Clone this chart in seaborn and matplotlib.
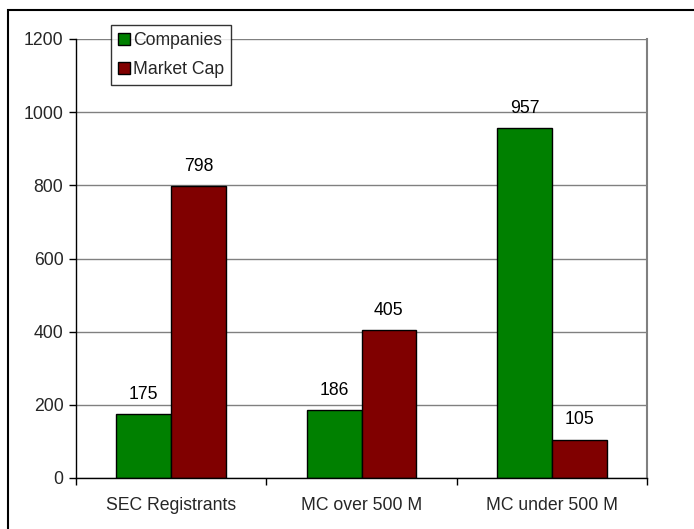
import matplotlib
matplotlib.use("Agg")
import matplotlib.pyplot as plt
import seaborn as sns
import pandas as pd
from matplotlib.patches import Rectangle, Patch

categories = ["SEC Registrants", "MC over 500 M", "MC under 500 M"]
companies = [175, 186, 957]
market_cap = [798, 405, 105]
series_names = ["Companies", "Market Cap"]
colors = ["#008000", "#800000"]
yticks = [0, 200, 400, 600, 800, 1000, 1200]

df = pd.DataFrame({
    "category": categories * 2,
    "value": companies + market_cap,
    "series": [series_names[0]] * 3 + [series_names[1]] * 3,
})

sns.set_theme(style="white")
plt.rcParams["font.family"] = ["Liberation Sans", "DejaVu Sans"]
FS = 12.7

fig = plt.figure(figsize=(6.94, 5.29), dpi=100)
ax = fig.add_axes([76 / 694, 1 - 478 / 529, 571 / 694, 439 / 529])

sns.barplot(data=df, x="category", y="value", hue="series", order=categories,
            hue_order=series_names, palette=colors, width=0.575,
            edgecolor="black", linewidth=1, saturation=1, ax=ax, legend=False)

for cont in ax.containers:
    ax.bar_label(cont, padding=8, fontsize=FS, color="black")

ax.set_ylim(0, 1200)
ax.set_xlim(-0.5, 2.5)
ax.set_yticks(yticks)
ax.set_yticklabels([str(v) for v in yticks], fontsize=FS)
ax.yaxis.grid(True, color="#808080", linewidth=1)
ax.set_axisbelow(True)

ax.set_xticks([-0.5, 0.5, 1.5, 2.5])
ax.set_xticklabels([])
ax.set_xticks([0, 1, 2], minor=True)
ax.set_xticklabels(categories, minor=True, fontsize=FS)
ax.tick_params(axis="x", which="major", length=5, width=1, color="black", direction="out", bottom=True)
ax.tick_params(axis="x", which="minor", length=0, pad=14)
ax.tick_params(axis="y", length=5, width=1, color="black", direction="out", left=True, pad=4)
ax.set_xlabel("")
ax.set_ylabel("")

for s in ["left", "bottom"]:
    ax.spines[s].set_color("black")
    ax.spines[s].set_linewidth(1)
ax.spines["top"].set_visible(False)
ax.spines["right"].set_color("#808080")
ax.spines["right"].set_linewidth(1.5)

handles = [Patch(facecolor=c, edgecolor="black", linewidth=1) for c in colors]
leg = fig.legend(handles, series_names, loc="upper left",
                 bbox_to_anchor=(111 / 694, 1 - 25 / 529), fontsize=FS,
                 frameon=True, fancybox=False, edgecolor="black",
                 handlelength=0.65, handleheight=0.65, handletextpad=0.2,
                 labelspacing=0.7, borderpad=0.4, borderaxespad=0)
leg.get_frame().set_linewidth(1)
leg.get_frame().set_facecolor("white")

fig.patches.append(Rectangle((8 / 694, -0.05), 1.0, 1 - 10 / 529 + 0.05,
                             transform=fig.transFigure, fill=False,
                             edgecolor="black", linewidth=1.5))

fig.savefig("out.png", dpi=100)
